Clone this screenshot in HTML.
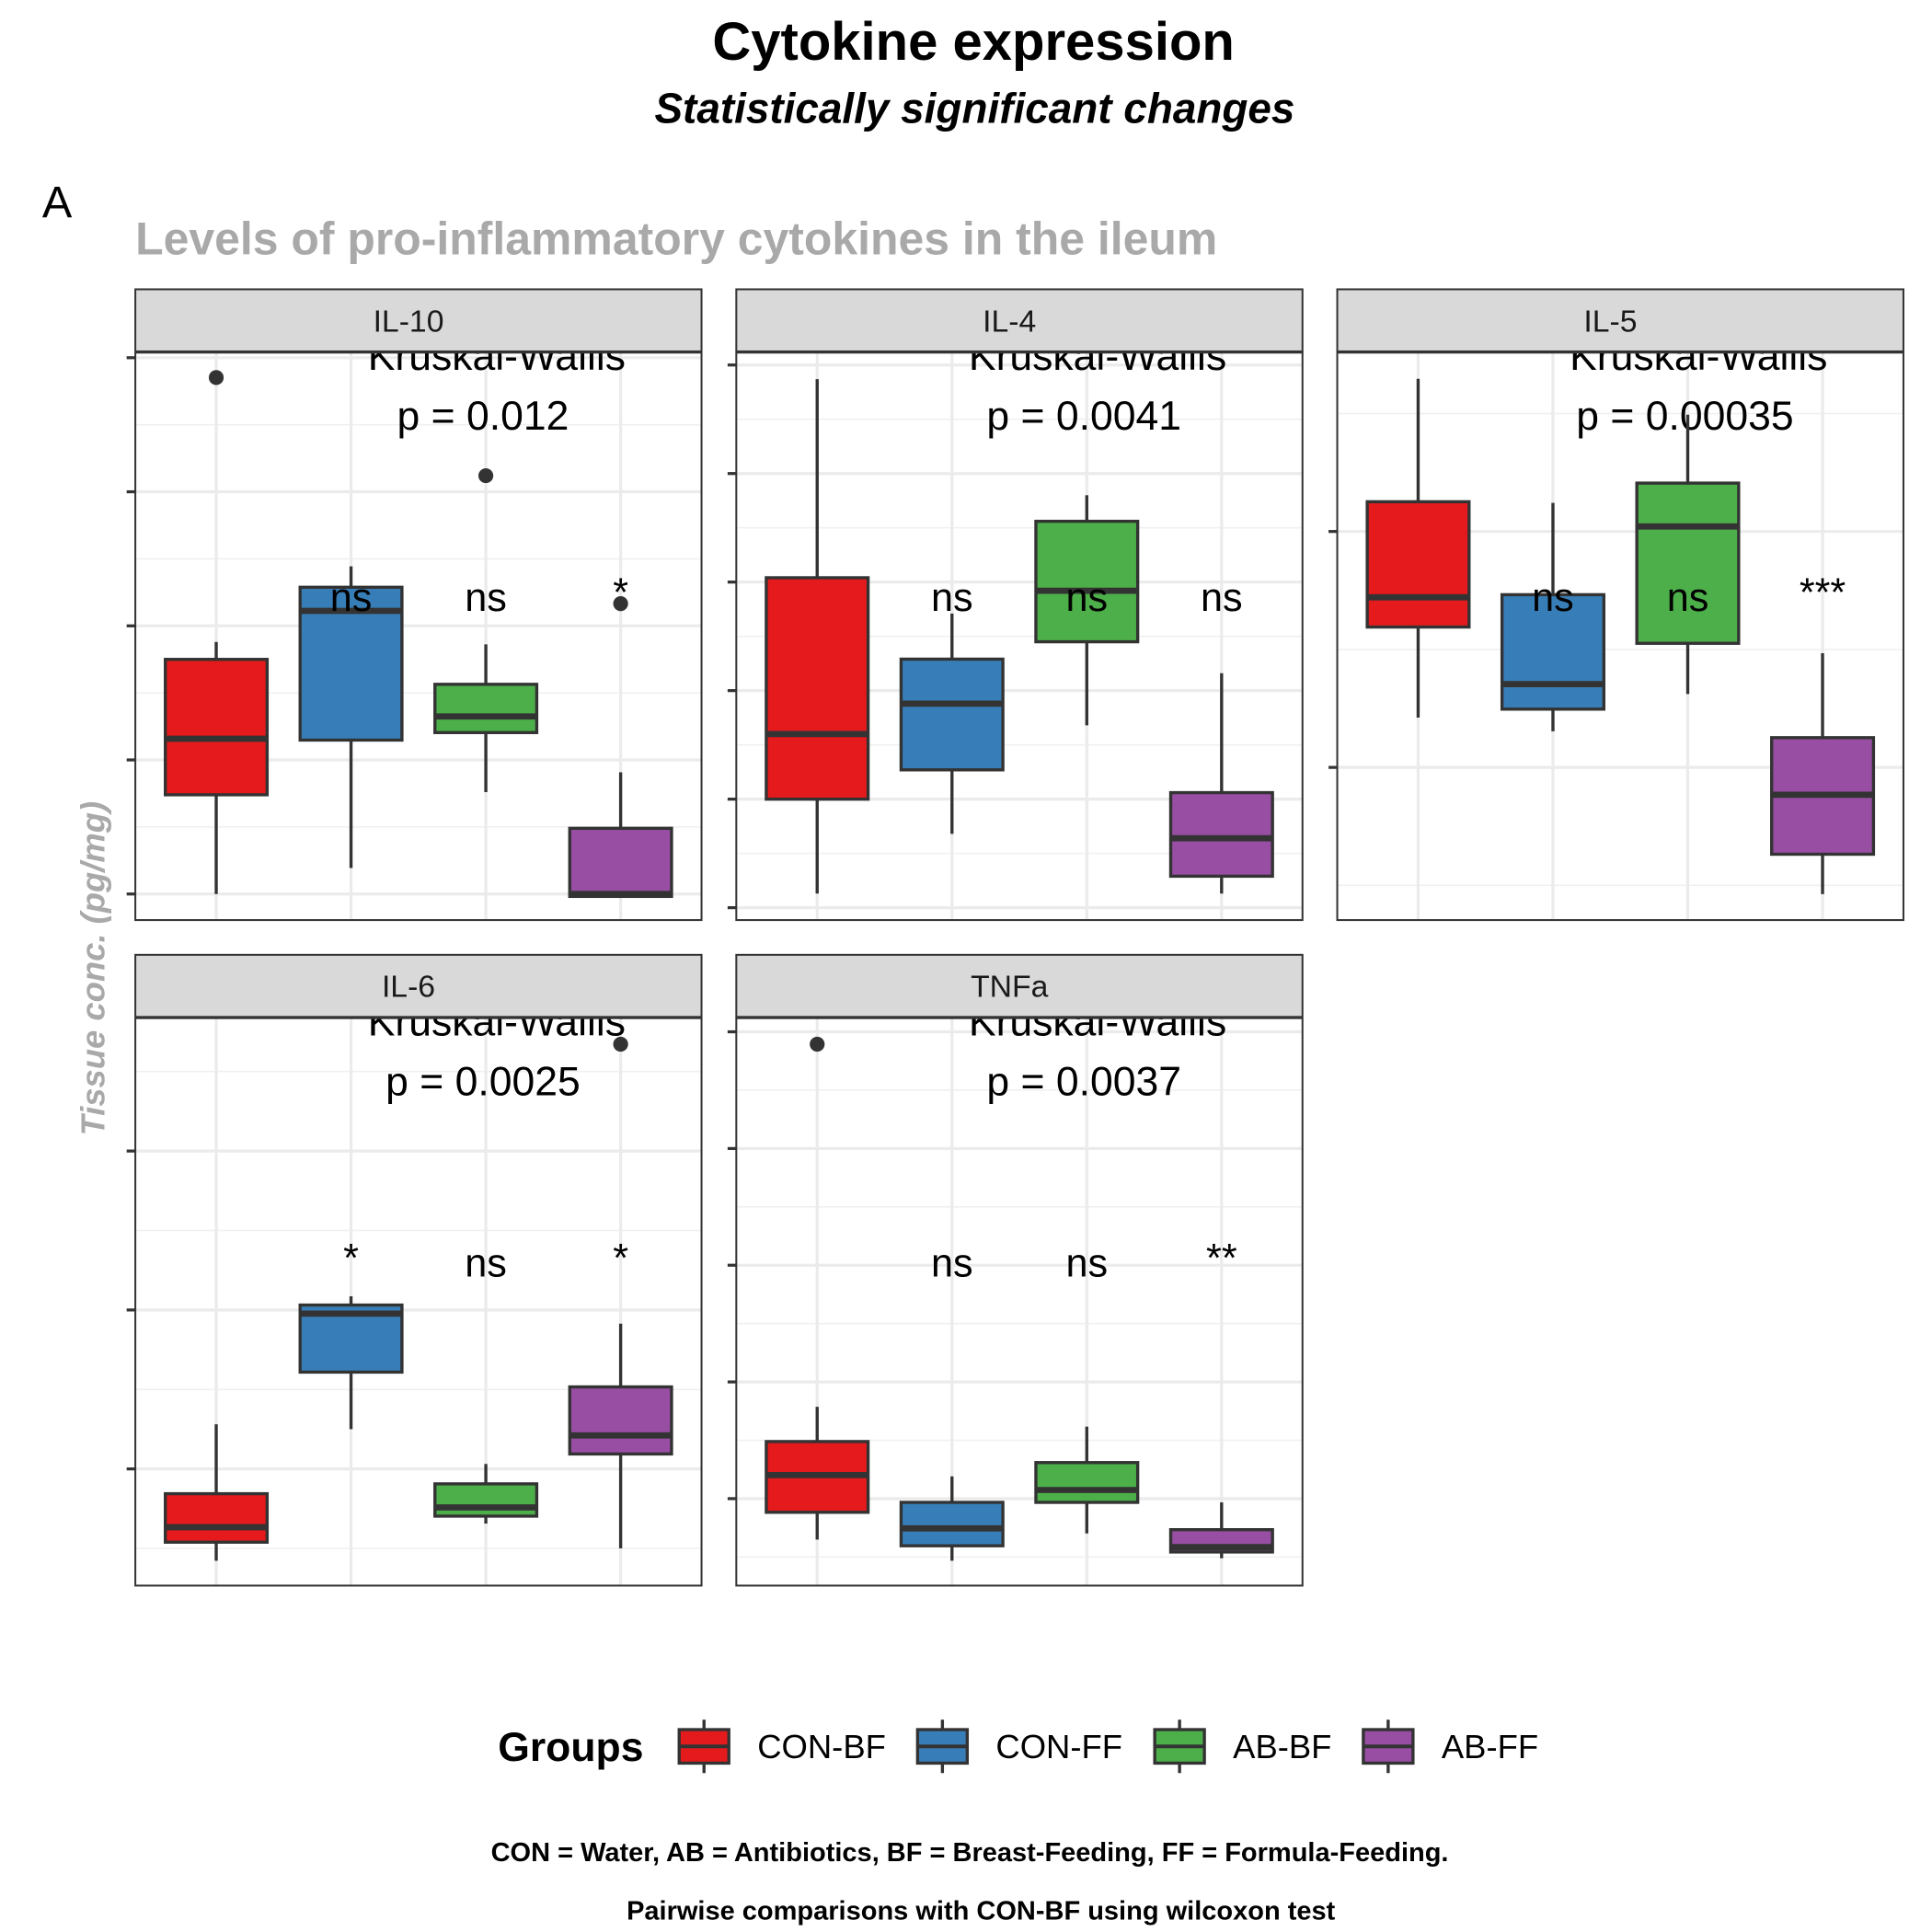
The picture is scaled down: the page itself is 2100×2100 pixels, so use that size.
<!DOCTYPE html>
<html><head><meta charset="utf-8"><style>
html,body{margin:0;padding:0;background:#fff}
svg{display:block}
text{font-family:"Liberation Sans",Arial,sans-serif}
</style></head><body>
<svg id="chart" width="2100" height="2100" viewBox="0 0 1556 1556" xmlns="http://www.w3.org/2000/svg">
<rect width="1556" height="1556" fill="#fff"/>
<text x="784" y="48" text-anchor="middle" font-size="43" font-weight="bold">Cytokine expression</text>
<text x="785" y="99" text-anchor="middle" font-size="34" font-weight="bold" font-style="italic">Statistically significant changes</text>
<text x="34" y="175" font-size="36">A</text>
<text x="109" y="205" font-size="37" font-weight="bold" fill="#a9a9a9">Levels of pro-inflammatory cytokines in the ileum</text>
<text transform="translate(84,780) rotate(-90)" text-anchor="middle" font-size="27" font-weight="bold" font-style="italic" fill="#a9a9a9">Tissue conc. (pg/mg)</text>
<g id="panels"></g>
<g id="legend">
<text x="401" y="1418" font-size="33" font-weight="bold">Groups</text>
</g>
<text x="781" y="1499" text-anchor="middle" font-size="21.5" font-weight="bold">CON = Water, AB = Antibiotics, BF = Breast-Feeding, FF = Formula-Feeding.</text>
<text x="790" y="1546" text-anchor="middle" font-size="21.5" font-weight="bold">Pairwise comparisons with CON-BF using wilcoxon test</text>
</svg>
<script>
const groups = ["CON-BF","CON-FF","AB-BF","AB-FF"];
const colors = ["#E41A1C","#377EB8","#4DAF4A","#984EA3"];
const panelNames = ["IL-10","IL-4","IL-5","IL-6","TNFa"];
const pValues = ["p = 0.012","p = 0.0041","p = 0.00035","p = 0.0025","p = 0.0037"];
const sigLabels = [["","ns","ns","*"],["","ns","ns","ns"],["","ns","ns","***"],["","*","ns","*"],["","ns","ns","**"]];
// [low whisker, q1, median, q3, high whisker] per group
const il10 = [[0,3.70,5.79,8.75,9.4],[0.97,5.74,10.56,11.44,12.22],[3.8,6.02,6.62,7.82,9.31],[-0.09,-0.09,0,2.45,4.54]];
const il4 = [[0.13,1.0,1.6,3.04,4.87],[0.68,1.27,1.88,2.29,2.71],[1.68,2.45,2.92,3.56,3.8],[0.13,0.29,0.64,1.06,2.16]];
const il5 = [[1.211,1.595,1.721,2.126,2.647],[1.153,1.247,1.353,1.732,2.121],[1.311,1.526,2.021,2.205,2.495],[0.463,0.632,0.884,1.126,1.484]];
const il6 = [[0.422,0.539,0.633,0.844,1.281],[1.25,1.609,1.977,2.031,2.086],[0.656,0.703,0.758,0.906,1.031],[0.5,1.094,1.211,1.516,1.914]];
const tnfa = [[0.649,0.883,1.202,1.489,1.787],[0.468,0.596,0.745,0.968,1.191],[0.702,0.968,1.074,1.309,1.617],[0.489,0.543,0.585,0.734,0.968]];
const outliers = [[[0,19.26],[2,15.6],[3,10.83]],[],[],[[3,3.672]],[[0,4.894]]];
const stats = [il10,il4,il5,il6,tnfa];
const domains = [[-0.972,20.19],[-0.114,5.114],[0.353,2.758],[0.266,3.836],[0.255,5.117]];
const ticks = [[0,5,10,15,20],[0,1,2,3,4,5],[1,2],[1,2,3],[1,2,3,4,5]];

const NS="http://www.w3.org/2000/svg";
const root=document.getElementById('panels');
function mk(tag,attrs,parent){const e=document.createElementNS(NS,tag);for(const k in attrs)e.setAttribute(k,attrs[k]);(parent||root).appendChild(e);return e;}
const colX=[109,593,1077], rowY=[233,769], PW=456, STRIP=50, PH=457;
panelNames.forEach((name,pi)=>{
  const px=colX[pi%3], sy=rowY[Math.floor(pi/3)], top=sy+STRIP+1, bot=top+PH;
  const g=mk('g',{});
  
  
  const [d0,d1]=domains[pi];
  const y=v=>bot-(v-d0)/(d1-d0)*PH;
  const x=i=>px+(i+0.6)*(PW/4.2);
  const bw=82;
  mk('rect',{x:px,y:top,width:PW,height:PH,fill:'#fff'},g);
  const tk=ticks[pi];
  const step=tk.length>1?tk[1]-tk[0]:1;
  for(let v=tk[0]-step/2;v<=d1;v+=step){ if(v<d0)continue; mk('line',{x1:px,x2:px+PW,y1:y(v),y2:y(v),stroke:'#f0f0f0','stroke-width':1.2},g);}
  tk.forEach(v=>{mk('line',{x1:px,x2:px+PW,y1:y(v),y2:y(v),stroke:'#ebebeb','stroke-width':2.4},g);
    const t=mk('line',{x1:px-7,x2:px,y1:y(v),y2:y(v),stroke:'#333','stroke-width':2.4},g);
    });
  groups.forEach((gr,i)=>{mk('line',{x1:x(i),x2:x(i),y1:top,y2:bot,stroke:'#ebebeb','stroke-width':2.4},g);});
  const kw=mk('text',{x:px+291,y:top+14,'text-anchor':'middle','font-size':33},g);kw.textContent='Kruskal-Wallis';
  
  const pv=mk('text',{x:px+280,y:top+62,'text-anchor':'middle','font-size':33},g);pv.textContent=pValues[pi];
  
  stats[pi].forEach((s,i)=>{
    const bg=mk('g',{},g);
    
    
    mk('line',{x1:x(i),x2:x(i),y1:y(s[0]),y2:y(s[1]),stroke:'#333','stroke-width':2.5},bg);
    mk('line',{x1:x(i),x2:x(i),y1:y(s[3]),y2:y(s[4]),stroke:'#333','stroke-width':2.5},bg);
    mk('rect',{x:x(i)-bw/2,y:y(s[3]),width:bw,height:Math.max(1,y(s[1])-y(s[3])),fill:colors[i],stroke:'#333','stroke-width':2.5},bg);
    mk('line',{x1:x(i)-bw/2,x2:x(i)+bw/2,y1:y(s[2]),y2:y(s[2]),stroke:'#333','stroke-width':5},bg);
  });
  outliers[pi].forEach(o=>{const c=mk('circle',{cx:x(o[0]),cy:y(o[1]),r:6,fill:'#333'},g);
    });
  sigLabels[pi].forEach((s,i)=>{ if(!s)return; const star=s.indexOf('*')>=0; const t=mk('text',{x:x(i),y:top+(star?204:208),'text-anchor':'middle','font-size':star&&s!=='*'?32:32},g);t.textContent=s;
    });
  mk('rect',{x:px,y:sy,width:PW,height:STRIP,fill:'#d9d9d9',stroke:'#333','stroke-width':1.5},g);
  const st=mk('text',{x:px+PW/2-8,y:sy+34,'text-anchor':'middle','font-size':25,fill:'#1a1a1a'},g);st.textContent=name;
  
  mk('rect',{x:px,y:top,width:PW,height:PH,fill:'none',stroke:'#333','stroke-width':1.5},g);
});
const lg=document.getElementById('legend');
const keyX=[567,759,950,1118];
groups.forEach((gr,i)=>{
  const k=mk('g',{},lg);
  
  
  mk('line',{x1:keyX[i],x2:keyX[i],y1:1385,y2:1428,stroke:'#333','stroke-width':2.5},k);
  mk('rect',{x:keyX[i]-20,y:1393,width:40,height:27,fill:colors[i],stroke:'#333','stroke-width':2.5},k);
  mk('line',{x1:keyX[i]-20,x2:keyX[i]+20,y1:1406.5,y2:1406.5,stroke:'#333','stroke-width':3},k);
  const t=mk('text',{x:keyX[i]+43,y:1416,'font-size':27},k);t.textContent=gr;
});
</script>
</body></html>
